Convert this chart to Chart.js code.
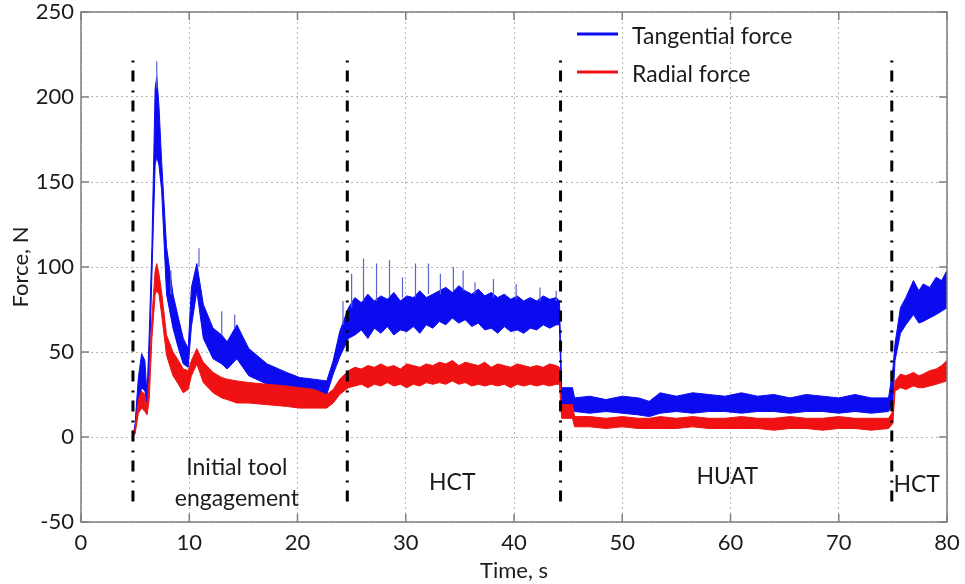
<!DOCTYPE html>
<html>
<head>
<meta charset="utf-8">
<title>Force vs time</title>
<script src="https://cdn.jsdelivr.net/npm/chart.js@4.4.1/dist/chart.umd.min.js"></script>
<style>
  html, body { margin: 0; padding: 0; background: #fff; }
  #wrap { width: 965px; height: 584px; }
</style>
</head>
<body>
<div id="wrap"><canvas id="chart" width="965" height="584"></canvas></div>
<script>
// -------------------------------------------------------------
// Datos (envolventes superior / inferior)
// Secciones: enganche inicial, HCT, caída, HUAT, HCT final
// -------------------------------------------------------------
const times = [
  4.8, 5.0, 5.3, 5.6, 5.9, 6.1, 6.3, 6.55, 6.85, 7.0, 7.2, 7.45, 7.9, 8.5, 9.0, 9.45, 9.9, 10.2, 10.7, 11.3,
  12.2, 13.0, 13.5, 14.4, 15.5, 17.2, 19.0, 20.2, 21.5, 22.7, 23.3, 23.9,
  24.7, 25.3, 25.9, 26.5, 27.1, 27.7, 28.3, 28.9, 29.5, 30.1, 30.7, 31.3, 31.9, 32.5, 33.1, 33.7, 34.3,
  34.9, 35.5, 36.1, 36.7, 37.3, 37.9, 38.5, 39.1, 39.7, 40.3, 40.9, 41.5, 42.1, 42.7, 43.3, 43.9, 44.2,
  44.4, 45.4,
  45.6, 47, 48.5, 50, 51.5, 52.5, 53.5, 55, 56.5, 58, 59.5, 61, 62.5, 64, 65.5, 67, 68.5, 70, 71.5, 73, 74.6,
  75.0, 75.2, 75.7, 76.2, 76.9, 77.4, 77.8, 78.4, 79.0, 79.5, 80];

// Fuerza tangencial (N)
const tanHi = [
  0, 8, 35, 49, 45, 25, 60, 112, 205, 212, 195, 162, 112, 84, 70, 58, 52, 88, 102, 78,
  64, 60, 56, 66, 52, 43, 38, 35, 34, 33, 45, 62,
  76, 82, 79, 84, 80, 83, 81, 85, 80, 83, 82, 86, 82, 84, 86, 88, 85,
  89, 86, 84, 87, 83, 85, 82, 84, 81, 83, 80, 82, 80, 83, 81, 82, 80,
  29, 29,
  23, 24, 22, 24, 23, 21, 26, 24, 26, 25, 24, 26, 24, 25, 23, 25, 24, 23, 25, 23, 23,
  40, 55, 76, 82, 92, 86, 90, 88, 94, 92, 98];
const tanLo = [
  0, 3, 20, 29, 27, 19, 40, 95, 160, 165, 160, 145, 84, 64, 52, 43, 41, 65, 86, 58,
  46, 43, 40, 46, 36, 31, 28, 27, 26, 25, 37, 47,
  58, 60, 63, 58, 64, 61, 65, 60, 63, 62, 65, 61, 66, 64, 68, 66, 70,
  67, 69, 65, 67, 63, 64, 61, 65, 62, 63, 61, 64, 63, 66, 64, 66, 66,
  19, 19,
  15, 14, 15, 14, 13, 12, 14, 15, 14, 15, 15, 14, 15, 15, 14, 15, 15, 14, 15, 14, 15,
  20, 45, 61, 66, 72, 67, 68, 70, 72, 74, 76];

// Fuerza radial (N)
const radHi = [
  0, 5, 22, 27, 25, 17, 35, 70, 98, 102, 96, 85, 60, 50, 45, 40, 39, 45, 52, 44,
  38, 35, 34, 33, 32, 31, 30, 29, 28, 25, 28, 34,
  39, 41, 40, 42, 41, 43, 41, 42, 40, 43, 42, 41, 43, 42, 44, 43, 45,
  42, 44, 43, 42, 44, 41, 43, 42, 41, 43, 42, 41, 42, 41, 43, 42, 41,
  19, 19,
  12, 12, 11, 12, 11, 11, 12, 11, 12, 11, 11, 12, 11, 11, 12, 11, 11, 12, 11, 11, 11,
  15, 33, 37, 36, 38, 36, 37, 39, 40, 42, 45];
const radLo = [
  0, 2, 14, 17, 15, 13, 22, 58, 84, 86, 84, 72, 48, 36, 31, 26, 28, 36, 43, 32,
  26, 23, 22, 20, 20, 19, 18, 17, 17, 17, 20, 25,
  29, 30, 31, 29, 31, 30, 32, 30, 31, 29, 31, 30, 32, 31, 32, 31, 33,
  31, 32, 30, 31, 30, 31, 30, 31, 29, 31, 30, 31, 30, 31, 30, 31, 31,
  11, 11,
  6, 6, 5, 6, 5, 5, 5, 5, 6, 5, 5, 5, 5, 4, 5, 5, 4, 5, 5, 4, 5,
  8, 27, 29, 28, 30, 29, 29, 30, 31, 32, 33];

// Picos aislados de la fuerza tangencial
const spikeT    = [7.0, 8.3, 10.9, 13.0, 14.2, 24.2, 25.0, 26.1, 27.3, 28.5, 29.7, 30.9, 32.1, 33.2, 34.4, 35.3, 36.4, 38.1, 40.2, 42.4, 43.9];
const spikeTop  = [221, 98, 111, 74, 72, 80, 96, 105, 102, 104, 94, 102, 102, 96, 100, 98, 91, 93, 90, 88, 86];
const spikeBase = [205, 84, 100, 60, 64, 66, 76, 80, 80, 82, 82, 82, 84, 84, 86, 86, 84, 82, 81, 80, 80];

// Cambios de régimen (líneas punto-raya) y sus etiquetas
const phaseT = [4.8, 24.6, 44.3, 74.9];
const phaseTop = 222, phaseBottom = -38;
const phaseLabels = [['Initial tool', 14.4, -18], ['engagement', 14.4, -36.5], ['HCT', 34.3, -27], ['HUAT', 59.7, -23], ['HCT', 77.2, -28]];

const xTicks = [0, 10, 20, 30, 40, 50, 60, 70, 80];
const yTicks = [-50, 0, 50, 100, 150, 200, 250];

const BLUE = '#0b0bf0', RED = '#f01212', SPIKE = '#5b63d6';
const FONT = 'Lato, "Open Sans", sans-serif';
const INK = '#1c1c1c';

const pts = (ys) => times.map((t, i) => ({ x: t, y: ys[i] }));

// Picos: segmentos verticales separados por huecos (null)
const spikeData = [];
spikeT.forEach((t, i) => {
  spikeData.push({ x: t, y: spikeBase[i] }, { x: t, y: spikeTop[i] }, { x: t, y: null });
});
const phaseData = [];
phaseT.forEach((t) => {
  phaseData.push({ x: t, y: phaseBottom }, { x: t, y: phaseTop }, { x: t, y: null });
});

// Plugin: marco, marcas internas, leyenda y etiquetas de fase
const overlay = {
  id: 'overlay',
  afterDraw(chart) {
    const { ctx, chartArea: a, scales: { x, y } } = chart;
    ctx.save();
    ctx.strokeStyle = '#7f7f7f';
    ctx.lineWidth = 1.5;
    ctx.strokeRect(a.left, a.top, a.right - a.left, a.bottom - a.top);
    ctx.beginPath();
    xTicks.forEach((v) => {
      const px = x.getPixelForValue(v);
      ctx.moveTo(px, a.bottom); ctx.lineTo(px, a.bottom - 8);
      ctx.moveTo(px, a.top); ctx.lineTo(px, a.top + 8);
    });
    yTicks.forEach((v) => {
      const py = y.getPixelForValue(v);
      ctx.moveTo(a.left, py); ctx.lineTo(a.left + 8, py);
      ctx.moveTo(a.right, py); ctx.lineTo(a.right - 8, py);
    });
    ctx.stroke();

    // leyenda
    ctx.font = '23px ' + FONT;
    ctx.fillStyle = INK;
    ctx.textBaseline = 'middle';
    ctx.textAlign = 'left';
    [['Tangential force', BLUE, 34], ['Radial force', RED, 72]].forEach(([txt, col, py]) => {
      ctx.strokeStyle = col; ctx.lineWidth = 3;
      ctx.beginPath(); ctx.moveTo(577, py); ctx.lineTo(618, py); ctx.stroke();
      ctx.fillText(txt, 632, py + 3);
    });

    // etiquetas de fase
    ctx.textAlign = 'center';
    phaseLabels.forEach(([txt, tx, ty]) => {
      ctx.fillText(txt, x.getPixelForValue(tx), y.getPixelForValue(ty));
    });
    ctx.restore();
  }
};

const band = (label, data, color, order, fill) => ({
  label, data, borderColor: color, backgroundColor: color, borderWidth: 1,
  pointRadius: 0, tension: 0, fill, order
});

new Chart(document.getElementById('chart'), {
  type: 'line',
  data: {
    datasets: [
      band('Tangential force', pts(tanHi), BLUE, 4, false),
      band('Tangential force (low)', pts(tanLo), BLUE, 4, 0),
      band('Radial force', pts(radHi), RED, 2, false),
      band('Radial force (low)', pts(radLo), RED, 2, 2),
      { label: 'spikes', data: spikeData, borderColor: SPIKE, borderWidth: 1.2, pointRadius: 0, fill: false, order: 3 },
      { label: 'phases', data: phaseData, borderColor: '#000', borderWidth: 3, borderDash: [11, 8, 2, 9],
        pointRadius: 0, fill: false, order: 1 }
    ]
  },
  options: {
    responsive: false,
    animation: false,
    spanGaps: false,
    layout: { padding: { top: 12, right: 18, left: 0, bottom: 0 } },
    plugins: { legend: { display: false }, tooltip: { enabled: false } },
    scales: {
      x: {
        type: 'linear', min: 0, max: 80,
        ticks: { stepSize: 10, color: INK, font: { size: 22, family: FONT }, padding: 8, maxRotation: 0 },
        grid: { color: '#b5b5b5', lineWidth: 1, drawTicks: false },
        border: { display: false, dash: [2, 3] },
        title: { display: true, text: 'Time, s', color: INK, font: { size: 22, family: FONT }, padding: { top: 0, bottom: 0 } },
        afterFit: (s) => { s.height = 62; s.paddingLeft = 0; s.paddingRight = 0; }
      },
      y: {
        min: -50, max: 250,
        ticks: { stepSize: 50, color: INK, font: { size: 22, family: FONT }, padding: 7 },
        grid: { color: '#b5b5b5', lineWidth: 1, drawTicks: false },
        border: { display: false, dash: [2, 3] },
        title: { display: true, text: 'Force, N', color: INK, font: { size: 22, family: FONT }, padding: { top: 8, bottom: 0 } },
        afterFit: (s) => { s.width = 81; s.paddingTop = 0; s.paddingBottom = 0; }
      }
    }
  },
  plugins: [overlay]
});
</script>
</body>
</html>
